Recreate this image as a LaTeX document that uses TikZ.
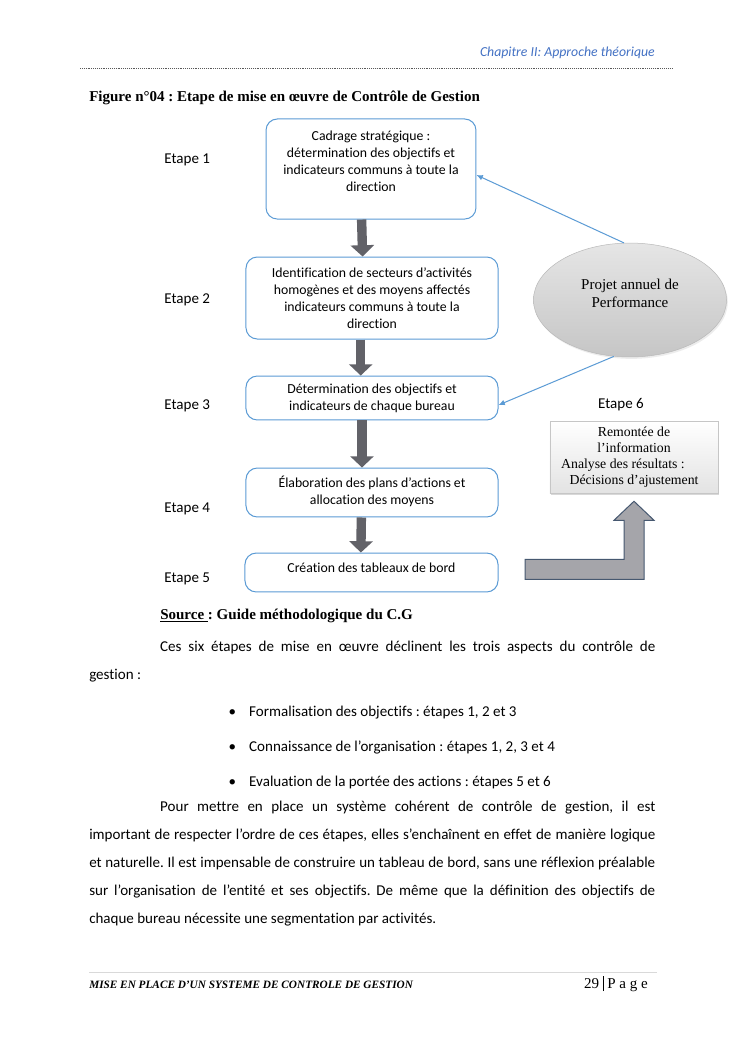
\documentclass[tikz,border=0pt]{standalone}
\usepackage{fontspec}
\setmainfont{Carlito}[Ligatures={NoCommon}]
\newfontfamily\timesfont{Liberation Serif}
\usetikzlibrary{positioning, shapes.geometric, arrows.meta, shadows}
\definecolor{boxblue}{RGB}{91,155,213}
\definecolor{arrowgray}{RGB}{98,98,104}
\definecolor{bentgray}{RGB}{165,165,170}
\definecolor{bentedge}{RGB}{70,88,112}
\definecolor{headblue}{RGB}{68,114,196}
\frenchspacing
\tikzset{
stepbox/.style={
	draw=boxblue,
	line width=0.8pt,
	rounded corners=9pt,
	align=center,
	inner sep=2pt,
	font=\fontsize{11}{13.6}\selectfont,
},
steplabel/.style={
	anchor=west,
	font=\fontsize{12}{14}\selectfont,
},
flow/.style={
	arrowgray,
	line width=7.5pt,
	-{Triangle[width=18.4pt,length=9pt]},
},
feedback/.style={
	boxblue,
	line width=0.8pt,
	-{Latex[length=5pt,width=4.5pt]},
},
projet/.style={
	ellipse,
	draw=gray!55,
	top color=gray!20,
	bottom color=gray!45,
	drop shadow={opacity=0.15, shadow xshift=1pt, shadow yshift=-1.5pt},
	align=center,
	font=\timesfont\fontsize{12}{14.4}\selectfont,
},
resultbox/.style={
	draw=gray!45,
	top color=white,
	bottom color=gray!22,
	drop shadow={opacity=0.3, shadow xshift=1pt, shadow yshift=-1.5pt},
	align=center,
	font=\timesfont\fontsize{11}{12.8}\selectfont,
},
bent/.style={
	fill=bentgray,
	draw=bentedge,
	line width=0.8pt,
	line join=miter,
},
bodytext/.style={
	inner sep=0pt,
	text width=452.1pt,
	align=justify,
	font=\fontsize{12}{22.4}\selectfont,
},
bodyline/.style={
	inner sep=0pt,
	anchor=base west,
	font=\fontsize{12}{14}\selectfont,
},
serifbold/.style={
	inner sep=0pt,
	anchor=base west,
	font=\timesfont\bfseries\fontsize{12}{14}\selectfont,
}
}

\begin{document}
\begin{tikzpicture}[x=0.7987pt, y=-0.7987pt]
		\useasboundingbox (0,0) rectangle (745,1053);
		\fill[white] (0,0) rectangle (745,1053);

		% Header
		\node[inner sep=0pt, anchor=base east, text=headblue, font=\itshape\fontsize{11}{13}\selectfont] (header) at (655,56) {Chapitre II: Approche théorique};
		\draw[gray!70!black, line width=0.6pt, dash pattern=on 0.6pt off 0.9pt] (80,68) -- (672,68);

		% Title
		\node[serifbold] (title) at (89,101) {Figure n°04 : Etape de mise en œuvre de Contrôle de Gestion};

		% Etapes
		\node[stepbox, minimum width=167.7pt, minimum height=79.9pt, text depth=12pt] (box1) at (371,169)
			{Cadrage stratégique :\\détermination des objectifs et\\indicateurs communs à toute la\\direction};
		\node[stepbox, minimum width=201.3pt, minimum height=65.5pt] (box2) at (372,298)
			{Identification de secteurs d’activités\\homogènes et des moyens affectés\\indicateurs communs à toute la\\direction};
		\node[stepbox, minimum width=201.3pt, minimum height=35.1pt] (box3) at (372,398)
			{Détermination des objectifs et\\indicateurs de chaque bureau};
		\node[stepbox, minimum width=201.3pt, minimum height=39.1pt, text depth=4pt] (box4) at (372,492.5)
			{Élaboration des plans d’actions et\\allocation des moyens};
		\node[stepbox, minimum width=202.1pt, minimum height=31.1pt, text depth=8pt] (box5) at (371.5,572.5)
			{Création des tableaux de bord};

		% Labels
		\node[steplabel] (etape1) at (160,160) {Etape 1};
		\node[steplabel] (etape2) at (160,300) {Etape 2};
		\node[steplabel] (etape3) at (160,406) {Etape 3};
		\node[steplabel] (etape4) at (160,509) {Etape 4};
		\node[steplabel] (etape5) at (160,579) {Etape 5};
		\node[steplabel, anchor=center] (etape6) at (621,405) {Etape 6};

		% Projet annuel / Etape 6
		\node[projet, minimum width=154.2pt, minimum height=91pt, text depth=10pt] (pap) at (630,300)
			{Projet annuel de\\Performance};
		\node[resultbox, minimum width=134.2pt, minimum height=57.5pt] (box6) at (634,457)
			{Remontée de\\l’information\\Analyse des résultats :\hspace*{17.6pt}\mbox{}\\Décisions d’ajustement};

		% Connections
		\draw[flow] ([xshift=-7.5pt]box1.south) -- ([xshift=-7.5pt]box2.north);
		\draw[flow] ([xshift=-9pt]box2.south) -- ([xshift=-9pt]box3.north);
		\draw[flow] ([xshift=-8pt]box3.south) -- ([xshift=-8pt]box4.north);
		\draw[flow] ([xshift=-8.5pt]box4.south) -- ([xshift=-8.5pt]box5.north);

		\draw[feedback] (pap.96) -- ([yshift=-4.8pt]box1.east);
		\draw[feedback] (pap.254) -- ([yshift=-5.6pt]box3.east);

		% box5 -> box6
		\coordinate (bendtip) at ([yshift=-6.4pt]box6.south);
		\draw[bent] (bendtip) -- ++(20,19) -- ++(-10,0) -- ++(0,59) -- ++(-119,0)
			-- ++(0,-20) -- ++(99,0) -- ++(0,-39) -- ++(-10,0) -- cycle;

		% Text
		\node[serifbold] (source) at (160,619) {\underline{Source }: Guide méthodologique du C.G};
		\node[bodytext, anchor=north west] (para1) at (89,641)
			{\hspace*{56.7pt}Ces six étapes de mise en œuvre déclinent les trois aspects du contrôle de\linebreak gestion :};
		\node[bodyline] (item1) at (249,716) {\llap{\textbullet\hspace{10.5pt}}Formalisation des objectifs : étapes 1, 2 et 3};
		\node[bodyline] (item2) at (249,751) {\llap{\textbullet\hspace{10.5pt}}Connaissance de l’organisation : étapes 1, 2, 3 et 4};
		\node[bodyline] (item3) at (249,786) {\llap{\textbullet\hspace{10.5pt}}Evaluation de la portée des actions : étapes 5 et 6};
		\node[bodytext, anchor=north west] (para2) at (89,801)
			{\hspace*{56.7pt}Pour mettre en place un système cohérent de contrôle de gestion, il est\linebreak
			important de respecter l’ordre de ces étapes, elles s’enchaînent en effet de manière logique\linebreak
			et naturelle. Il est impensable de construire un tableau de bord, sans une réflexion préalable\linebreak
			sur l’organisation de l’entité et ses objectifs. De même que la définition des objectifs de\linebreak
			chaque bureau nécessite une segmentation par activités.};

		% Footer
		\draw[gray!30, line width=0.6pt] (89,972) -- (657,972);
		\node[inner sep=0pt, anchor=base west, font=\timesfont\bfseries\itshape\fontsize{9}{11}\selectfont] (footer) at (89,988)
			{MISE EN PLACE D’UN SYSTEME DE CONTROLE DE GESTION};
		\node[inner sep=0pt, anchor=base east, font=\timesfont\fontsize{12}{14}\selectfont] (page) at (648,988)
			{29 \rule[-2.5pt]{0.5pt}{12pt} P a g e};
	\end{tikzpicture}
\end{document}
